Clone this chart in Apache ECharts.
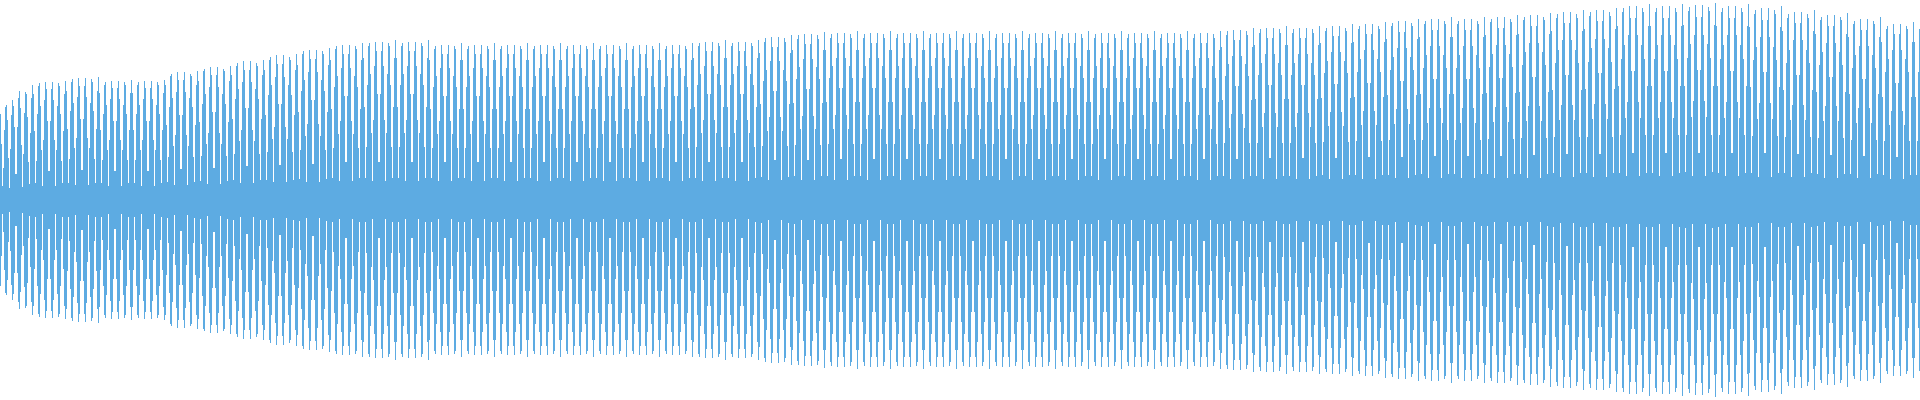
<!DOCTYPE html>
<html>
<head>
<meta charset="utf-8">
<style>
html,body{margin:0;padding:0;background:#ffffff;}
#chart{width:1920px;height:400px;}
</style>
<script src="https://cdn.jsdelivr.net/npm/echarts@6/dist/echarts.min.js"></script>
</head>
<body>
<div id="chart"></div>
<script>
// Waveform amplitude per pixel column (symmetric around 0)
const amplitude = [
86,56,14,32,70,93,95,80,42,12,51,85,100,94,73,26,26,73,102,109,92,55,13,46,87,108,106,83,38,16,67,102,115,
106,69,17,39,86,114,117,94,50,14,60,100,118,111,79,29,29,79,111,118,100,60,14,50,94,117,114,86,39,17,69,106,119,
109,71,17,41,89,118,121,97,52,15,62,103,122,114,81,30,30,81,114,122,103,62,15,52,97,121,118,89,41,17,71,109,123,
107,70,17,40,86,115,118,95,50,14,60,101,119,112,79,29,29,79,112,119,101,60,14,50,95,118,115,86,40,17,70,107,120,
107,70,17,40,86,115,118,95,50,14,60,101,119,112,79,29,29,79,112,119,101,60,14,50,95,118,115,86,40,17,70,107,120,
115,75,18,43,93,124,126,102,54,15,65,108,128,120,85,31,31,85,120,128,108,65,15,54,102,126,124,93,43,18,75,115,129,
119,78,19,44,96,129,131,106,56,16,67,113,133,125,88,32,32,88,125,133,113,67,16,56,106,131,129,96,44,19,78,119,134,
125,81,20,46,101,134,137,111,59,17,70,118,139,130,92,34,34,92,130,139,118,70,17,59,111,137,134,101,46,20,81,125,140,
130,85,20,48,105,140,143,115,61,18,73,123,145,136,96,35,35,96,136,145,123,73,18,61,115,143,140,105,48,20,85,130,146,
135,88,21,50,109,146,149,120,64,18,76,128,150,141,100,36,36,100,141,150,128,76,18,64,120,149,146,109,50,21,88,135,152,
140,91,22,52,113,151,154,124,66,19,79,132,155,146,104,38,38,104,146,155,132,79,19,66,124,154,151,113,52,22,91,140,157,
142,93,22,53,115,154,157,126,67,19,80,134,158,149,106,38,38,106,149,158,134,80,19,67,126,157,154,115,53,22,93,142,160,
142,93,22,53,115,154,157,126,67,19,80,134,158,149,106,38,38,106,149,158,134,80,19,67,126,157,154,115,53,22,93,142,160,
140,91,22,52,113,151,154,124,66,19,79,132,155,146,104,38,38,104,146,155,132,79,19,66,124,154,151,113,52,22,91,140,157,
140,91,22,52,113,151,154,124,66,19,79,132,155,146,104,38,38,104,146,155,132,79,19,66,124,154,151,113,52,22,91,140,157,
140,91,22,52,113,151,154,124,66,19,79,132,155,146,104,38,38,104,146,155,132,79,19,66,124,154,151,113,52,22,91,140,157,
140,91,22,52,113,151,154,124,66,19,79,132,155,146,104,38,38,104,146,155,132,79,19,66,124,154,151,113,52,22,91,140,157,
140,91,22,52,113,151,154,124,66,19,79,132,155,146,104,38,38,104,146,155,132,79,19,66,124,154,151,113,52,22,91,140,157,
140,91,22,52,113,151,154,124,66,19,79,132,155,146,104,38,38,104,146,155,132,79,19,66,124,154,151,113,52,22,91,140,157,
140,91,22,52,113,151,154,124,66,19,79,132,155,146,104,38,38,104,146,155,132,79,19,66,124,154,151,113,52,22,91,140,157,
140,91,22,52,113,151,154,124,66,19,79,132,155,146,104,38,38,104,146,155,132,79,19,66,124,154,151,113,52,22,91,140,157,
142,93,22,53,115,154,157,126,67,19,80,134,158,149,106,38,38,106,149,158,134,80,19,67,126,157,154,115,53,22,93,142,160,
142,93,22,53,115,154,157,126,67,19,80,134,158,149,106,38,38,106,149,158,134,80,19,67,126,157,154,115,53,22,93,142,160,
147,96,23,54,119,158,162,130,69,20,83,139,163,153,109,40,40,109,153,163,139,83,20,69,130,162,158,119,54,23,96,147,165,
150,97,24,55,121,161,165,133,71,20,84,141,166,156,111,40,40,111,156,166,141,84,20,71,133,165,161,121,55,24,97,150,168,
150,98,24,56,122,162,166,134,71,20,85,142,167,157,112,41,41,112,157,167,142,85,20,71,134,166,162,122,56,24,98,150,169,
150,98,24,56,122,162,166,134,71,20,85,142,167,157,112,41,41,112,157,167,142,85,20,71,134,166,162,122,56,24,98,150,169,
150,98,24,56,122,162,166,134,71,20,85,142,167,157,112,41,41,112,157,167,142,85,20,71,134,166,162,122,56,24,98,150,169,
150,98,24,56,122,162,166,134,71,20,85,142,167,157,112,41,41,112,157,167,142,85,20,71,134,166,162,122,56,24,98,150,169,
150,98,24,56,122,162,166,134,71,20,85,142,167,157,112,41,41,112,157,167,142,85,20,71,134,166,162,122,56,24,98,150,169,
150,98,24,56,122,162,166,134,71,20,85,142,167,157,112,41,41,112,157,167,142,85,20,71,134,166,162,122,56,24,98,150,169,
150,98,24,56,122,162,166,134,71,20,85,142,167,157,112,41,41,112,157,167,142,85,20,71,134,166,162,122,56,24,98,150,169,
150,98,24,56,122,162,166,134,71,20,85,142,167,157,112,41,41,112,157,167,142,85,20,71,134,166,162,122,56,24,98,150,169,
150,98,24,56,122,162,166,134,71,20,85,142,167,157,112,41,41,112,157,167,142,85,20,71,134,166,162,122,56,24,98,150,169,
150,98,24,56,122,162,166,134,71,20,85,142,167,157,112,41,41,112,157,167,142,85,20,71,134,166,162,122,56,24,98,150,169,
150,98,24,56,122,162,166,134,71,20,85,142,167,157,112,41,41,112,157,167,142,85,20,71,134,166,162,122,56,24,98,150,169,
150,98,24,56,122,162,166,134,71,20,85,142,167,157,112,41,41,112,157,167,142,85,20,71,134,166,162,122,56,24,98,150,169,
153,100,24,57,124,165,169,136,72,21,86,144,170,160,114,41,41,114,160,170,144,86,21,72,136,169,165,124,57,24,100,153,172,
155,101,24,57,125,167,171,137,73,21,87,146,172,162,115,42,42,115,162,172,146,87,21,73,137,171,167,125,57,24,101,155,174,
155,101,24,57,125,167,171,137,73,21,87,146,172,162,115,42,42,115,162,172,146,87,21,73,137,171,167,125,57,24,101,155,174,
157,102,25,58,127,169,172,139,74,21,88,148,174,164,116,42,42,116,164,174,148,88,21,74,139,172,169,127,58,25,102,157,176,
158,103,25,59,128,171,174,141,75,21,89,150,176,166,117,43,43,117,166,176,150,89,21,75,141,174,171,128,59,25,103,158,178,
161,105,25,60,130,174,177,143,76,22,91,152,179,168,119,43,43,119,168,179,152,91,22,76,143,177,174,130,60,25,105,161,181,
163,106,26,60,132,176,179,145,77,22,92,154,181,170,121,44,44,121,170,181,154,92,22,77,145,179,176,132,60,26,106,163,183,
163,106,26,60,132,176,179,145,77,22,92,154,181,170,121,44,44,121,170,181,154,92,22,77,145,179,176,132,60,26,106,163,183,
165,107,26,61,133,178,181,146,78,22,93,155,183,172,122,44,44,122,172,183,155,93,22,78,146,181,178,133,61,26,107,165,185,
166,108,26,62,135,180,183,148,79,22,94,157,185,174,123,45,45,123,174,185,157,94,22,79,148,183,180,135,62,26,108,166,187,
169,110,27,63,137,182,186,150,80,23,95,160,188,177,125,46,46,125,177,188,160,95,23,80,150,186,182,137,63,27,110,169,190,
171,111,27,63,138,184,188,152,81,23,96,161,190,179,127,46,46,127,179,190,161,96,23,81,152,188,184,138,63,27,111,171,192,
174,114,27,65,141,188,192,155,82,24,98,165,194,182,129,47,47,129,182,194,165,98,24,82,155,192,188,141,65,27,114,174,196,
174,114,27,65,141,188,192,155,82,24,98,165,194,182,129,47,47,129,182,194,165,98,24,82,155,192,188,141,65,27,114,174,196,
175,114,28,65,142,189,193,156,83,24,99,165,195,183,130,47,47,130,183,195,165,99,24,83,156,193,189,142,65,28,114,175,197,
174,114,27,65,141,188,192,155,82,24,98,165,194,182,129,47,47,129,182,194,165,98,24,82,155,192,188,141,65,27,114,174,196,
173,113,27,64,140,186,190,153,81,23,97,163,192,180,128,47,47,128,180,192,163,97,23,81,153,190,186,140,64,27,113,173,194,
169,110,27,63,137,182,186,150,80,23,95,160,188,177,125,46,46,125,177,188,160,95,23,80,150,186,182,137,63,27,110,169,190,
166,108,26,62,135,180,183,148,79,22,94,157,185,174,123,45,45,123,174,185,157,94,22,79,148,183,180,135,62,26,108,166,187,
163,106,26,60,132,176,179,145,77,22,92,154,181,170,121,44,44,121,170,181,154,92,22,77,145,179,176,132,60,26,106,163,183,
158,103,25,59,128,171,174,141,75,21,89,150,176,166,117,43,43,117,166,176,150,89,21,75,141,174,171,128,59,25,103,158,178,
158,103,25,59,128,171
];

const columns = amplitude.map((_, i) => i);
const lowerAmplitude = amplitude.map(v => -v);

const chart = echarts.init(document.getElementById('chart'), null, {renderer: 'canvas'});
chart.setOption({
  animation: false,
  backgroundColor: '#ffffff',
  grid: {left: 0, right: 0, top: 0, bottom: 0},
  xAxis: {type: 'category', data: columns, show: false, boundaryGap: true},
  yAxis: {type: 'value', min: -200, max: 200, show: false},
  series: [
    {type: 'bar', data: amplitude, barGap: '-100%', barCategoryGap: '0%',
     itemStyle: {color: '#5dabe2'}, silent: true},
    {type: 'bar', data: lowerAmplitude, barGap: '-100%', barCategoryGap: '0%',
     itemStyle: {color: '#5dabe2'}, silent: true}
  ]
});
</script>
</body>
</html>
